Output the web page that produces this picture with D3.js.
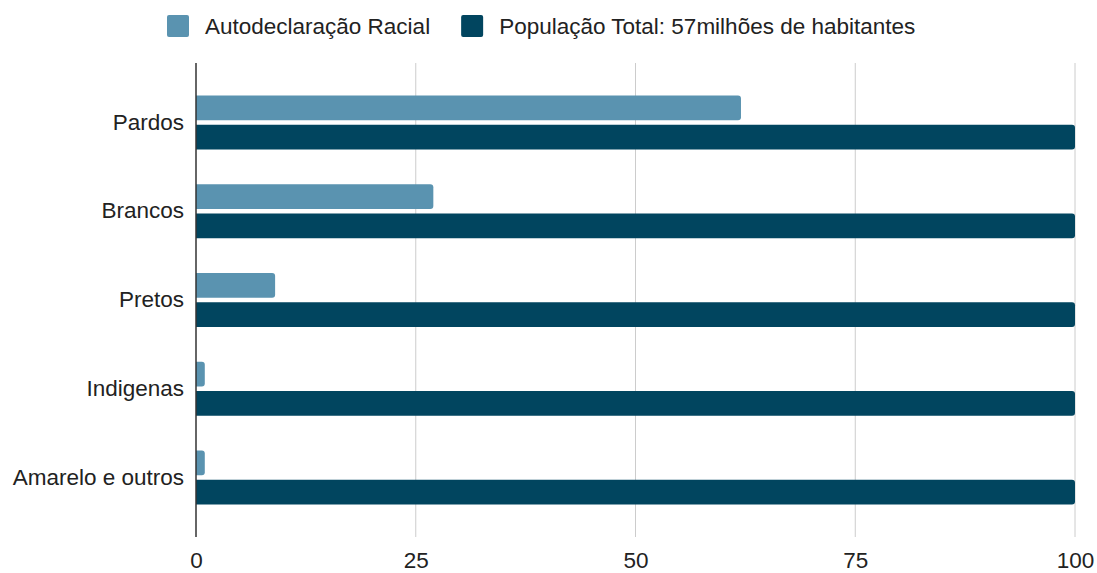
<!DOCTYPE html>
<html>
<head>
<meta charset="utf-8">
<script src="https://cdn.jsdelivr.net/npm/d3@7"></script>
<style>
  body { margin: 0; background: #fff; }
  text { font-family: "Liberation Sans", Arial, sans-serif; fill: #222; }
</style>
</head>
<body>
<div id="chart"></div>
<script>
const categories = ["Pardos", "Brancos", "Pretos", "Indigenas", "Amarelo e outros"];
const seriesNames = ["Autodeclaração Racial", "População Total: 57milhões de habitantes"];
const autodeclaracao = [62, 27, 9, 1, 1];
const populacaoTotal = [100, 100, 100, 100, 100];
const xTicks = [0, 25, 50, 75, 100];
const colors = ["#5a93b0", "#01455f"];

const width = 1097, height = 573;
const margin = {top: 63, right: 22, bottom: 36, left: 196};
const innerWidth = 1075 - margin.left;
const innerHeight = 537 - margin.top;

const data = categories.map((c, i) => ({cat: c, values: [autodeclaracao[i], populacaoTotal[i]]}));

const svg = d3.select("#chart").append("svg")
    .attr("width", width)
    .attr("height", height);

const g = svg.append("g")
    .attr("transform", `translate(${margin.left},${margin.top})`);

const xScale = d3.scaleLinear().domain([0, 100]).range([0, innerWidth]);

const yScale = d3.scaleBand()
    .domain(categories)
    .range([0, innerHeight])
    .paddingInner(0)
    .paddingOuter(0.17);

const subScale = d3.scaleBand()
    .domain([0, 1])
    .range([yScale.bandwidth() / 2 - 27, yScale.bandwidth() / 2 + 27])
    .paddingInner(0.15);

// gridlines
g.append("g")
    .selectAll("line")
    .data(xTicks.filter(t => t > 0))
    .enter()
    .append("line")
    .attr("x1", d => xScale(d))
    .attr("x2", d => xScale(d))
    .attr("y1", 0)
    .attr("y2", innerHeight)
    .attr("stroke", "#cccccc")
    .attr("stroke-width", 1);

// bar with rounded right end
function barPath(x0, x1, y, h, r) {
    r = Math.min(r, (x1 - x0), h / 2);
    return `M${x0},${y}H${x1 - r}Q${x1},${y} ${x1},${y + r}V${y + h - r}Q${x1},${y + h} ${x1 - r},${y + h}H${x0}Z`;
}

const groups = g.selectAll(".cat")
    .data(data)
    .enter()
    .append("g")
    .attr("class", "cat")
    .attr("transform", d => `translate(0,${yScale(d.cat)})`);

groups.selectAll("path")
    .data(d => d.values.map((v, i) => ({v, i})))
    .enter()
    .append("path")
    .attr("d", d => barPath(xScale(0), xScale(d.v), subScale(d.i), subScale.bandwidth(), 3))
    .attr("fill", d => colors[d.i]);

// y axis
const yAxis = d3.axisLeft(yScale).tickSize(0).tickPadding(12);
const yG = g.append("g").call(yAxis);
yG.select(".domain").remove();
yG.selectAll("text")
    .style("font-size", "22.5px")
    .style("font-family", "'Liberation Sans', Arial, sans-serif")
    .attr("fill", "#222");

g.append("line")
    .attr("x1", 0).attr("x2", 0)
    .attr("y1", 0).attr("y2", innerHeight)
    .attr("stroke", "#333")
    .attr("stroke-width", 1.5);

// x axis
const xAxis = d3.axisBottom(xScale).tickValues(xTicks).tickSize(0).tickPadding(15);
const xG = g.append("g")
    .attr("transform", `translate(0,${innerHeight})`)
    .call(xAxis);
xG.select(".domain").remove();
xG.selectAll("text")
    .style("font-size", "22.5px")
    .style("font-family", "'Liberation Sans', Arial, sans-serif")
    .attr("fill", "#222");

// legend
const legend = svg.append("g").attr("transform", "translate(167,26)");
let lx = 0;
seriesNames.forEach((name, i) => {
    const item = legend.append("g").attr("transform", `translate(${lx},0)`);
    item.append("rect")
        .attr("x", 0).attr("y", -11)
        .attr("width", 22).attr("height", 22)
        .attr("rx", 2)
        .attr("fill", colors[i]);
    const t = item.append("text")
        .attr("x", 38).attr("y", 0)
        .attr("dy", "0.35em")
        .style("font-size", "22.5px")
        .text(name);
    lx += 38 + t.node().getComputedTextLength() + 31;
});
</script>
</body>
</html>
